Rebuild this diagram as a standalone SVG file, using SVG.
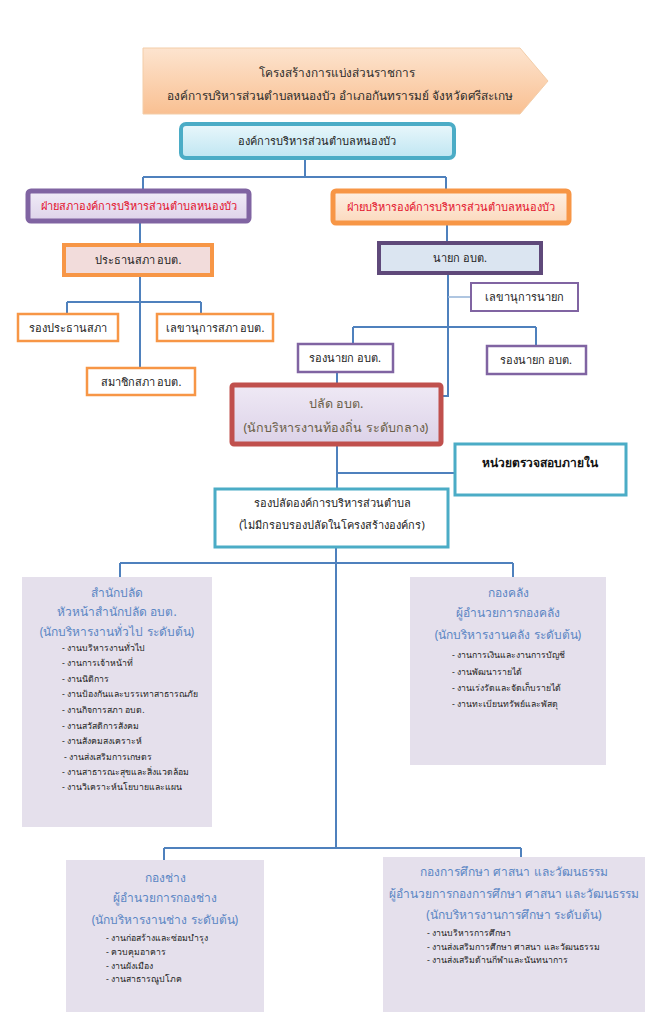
<svg xmlns="http://www.w3.org/2000/svg" width="662" height="1024" viewBox="0 0 662 1024">
<defs>
<linearGradient id="gTitle" x1="0" y1="0" x2="0" y2="1"><stop offset="0" stop-color="#fde4cf"/><stop offset="1" stop-color="#f9c092"/></linearGradient>
<linearGradient id="gTop" x1="0" y1="0" x2="0" y2="1"><stop offset="0" stop-color="#e9f7fb"/><stop offset="1" stop-color="#bfe6f2"/></linearGradient>
<linearGradient id="gPur" x1="0" y1="0" x2="0" y2="1"><stop offset="0" stop-color="#f1ecf7"/><stop offset="1" stop-color="#ddd3ea"/></linearGradient>
<linearGradient id="gOra" x1="0" y1="0" x2="0" y2="1"><stop offset="0" stop-color="#fef0e4"/><stop offset="1" stop-color="#fbd9bd"/></linearGradient>
<linearGradient id="gRed" x1="0" y1="0" x2="0" y2="1"><stop offset="0" stop-color="#efe9f5"/><stop offset="1" stop-color="#dcd2e8"/></linearGradient>
</defs>
<style>
text{font-family:"Noto Sans","DejaVu Sans",sans-serif;text-anchor:middle}
.t{font-size:11px;fill:#222}
.red{font-size:11px;fill:#e3102b}
.big{font-size:11.8px;fill:#2a2a2a}
.plt{font-size:12.5px;fill:#6a5f48}
.dh{font-size:12px;fill:#5b86c4}
.li{font-size:8.7px;fill:#222;text-anchor:start}
.bold{font-size:12px;font-weight:bold;fill:#111}
.c{fill:none;stroke:#4f81bd;stroke-width:2}
.cl{fill:none;stroke:#95b3d7;stroke-width:1.5}
.dept{fill:#e5e0ec}
</style>

<g id="connectors">
<path class="c" d="M305,159 V177 M143,177 H446 M143,177 V190 M446,177 V190"/>
<path class="c" d="M140,222 V244"/>
<path class="c" d="M140,276 V367 M67,302 H201 M67,302 V313 M201,302 V313"/>
<path class="c" d="M447,224 V242"/>
<path class="c" d="M448,274 V396 H442"/>
<path class="cl" d="M448,297 H470"/>
<path class="c" d="M353,327 H536 M353,327 V343 M536,327 V345"/>
<path class="c" d="M337,372 V383"/>
<path class="c" d="M337,445 V488 M337,473 H454"/>
<path class="c" d="M336,548 V848 M120,563 H513 M120,563 V577 M513,563 V577"/>
<path class="c" d="M164,848 H521 M164,848 V860 M521,848 V857"/>
</g>

<g id="title">
<path d="M143,48 L520,48 L548,81 L520,114 L143,114 Z" fill="url(#gTitle)" stroke="#f3cda8" stroke-width="1"/>
<text class="big" x="337" y="77">โครงสร้างการแบ่งส่วนราชการ</text>
<text class="big" x="340" y="100">องค์การบริหารส่วนตำบลหนองบัว อำเภอกันทรารมย์ จังหวัดศรีสะเกษ</text>
</g>

<g id="n-top">
<rect x="181" y="124" width="273" height="34" rx="5" fill="url(#gTop)" stroke="#4bacc6" stroke-width="4"/>
<text class="t" x="317" y="145">องค์การบริหารส่วนตำบลหนองบัว</text>
</g>

<g id="n-council">
<rect x="28" y="191" width="221" height="30" rx="3" fill="url(#gPur)" stroke="#8064a2" stroke-width="5"/>
<text class="red" x="139" y="210">ฝ่ายสภาองค์การบริหารส่วนตำบลหนองบัว</text>
</g>

<g id="n-exec">
<rect x="333" y="191" width="236" height="32" rx="3" fill="url(#gOra)" stroke="#f79646" stroke-width="5"/>
<text class="red" x="451" y="211">ฝ่ายบริหารองค์การบริหารส่วนตำบลหนองบัว</text>
</g>

<g id="n-chair">
<rect x="64" y="245" width="148" height="30" fill="#f2dcdb" stroke="#f79646" stroke-width="4"/>
<text class="t" x="138" y="264">ประธานสภา อบต.</text>
</g>

<g id="n-vicechair">
<rect x="18" y="314" width="100" height="27" fill="#fff" stroke="#f79646" stroke-width="2.5"/>
<text class="t" x="68" y="332">รองประธานสภา</text>
</g>

<g id="n-councilsec">
<rect x="157" y="314" width="116" height="27" fill="#fff" stroke="#f79646" stroke-width="2.5"/>
<text class="t" x="215" y="332">เลขานุการสภา อบต.</text>
</g>

<g id="n-member">
<rect x="87" y="368" width="108" height="27" fill="#fff" stroke="#f79646" stroke-width="2.5"/>
<text class="t" x="141" y="386">สมาชิกสภา อบต.</text>
</g>

<g id="n-mayor">
<rect x="379" y="243" width="162" height="30" fill="#dbe5f1" stroke="#5f497a" stroke-width="4"/>
<text class="t" x="460" y="262">นายก อบต.</text>
</g>

<g id="n-mayorsec">
<rect x="471" y="283" width="107" height="28" fill="#fff" stroke="#8064a2" stroke-width="2"/>
<text class="t" x="524" y="301">เลขานุการนายก</text>
</g>

<g id="n-vicemayor1">
<rect x="298" y="344" width="95" height="28" fill="#fff" stroke="#8064a2" stroke-width="2.5"/>
<text class="t" x="345" y="362">รองนายก อบต.</text>
</g>

<g id="n-vicemayor2">
<rect x="487" y="346" width="99" height="28" fill="#fff" stroke="#8064a2" stroke-width="2.5"/>
<text class="t" x="536" y="364">รองนายก อบต.</text>
</g>

<g id="n-palad">
<rect x="232" y="385" width="209" height="59" rx="2" fill="url(#gRed)" stroke="#c0504d" stroke-width="5"/>
<text class="plt" x="336" y="408">ปลัด อบต.</text>
<text class="plt" x="336" y="432">(นักบริหารงานท้องถิ่น ระดับกลาง)</text>
</g>

<g id="n-audit">
<rect x="455" y="444" width="171" height="51" fill="#fff" stroke="#4bacc6" stroke-width="3"/>
<text class="bold" x="540" y="467">หน่วยตรวจสอบภายใน</text>
</g>

<g id="n-deputy">
<rect x="215" y="489" width="233" height="58" fill="#fff" stroke="#4bacc6" stroke-width="3"/>
<text class="t" x="332" y="507">รองปลัดองค์การบริหารส่วนตำบล</text>
<text class="t" x="332" y="529">(ไม่มีกรอบรองปลัดในโครงสร้างองค์กร)</text>
</g>

<g id="n-office">
<rect class="dept" x="22" y="577" width="190" height="250"/>
<text class="dh" x="117" y="597">สำนักปลัด</text>
<text class="dh" x="117" y="616">หัวหน้าสำนักปลัด อบต.</text>
<text class="dh" x="117" y="636">(นักบริหารงานทั่วไป ระดับต้น)</text>
<text class="li" x="62" y="651">- งานบริหารงานทั่วไป</text>
<text class="li" x="62" y="666">- งานการเจ้าหน้าที่</text>
<text class="li" x="62" y="682">- งานนิติการ</text>
<text class="li" x="62" y="697">- งานป้องกันและบรรเทาสาธารณภัย</text>
<text class="li" x="62" y="713">- งานกิจการสภา อบต.</text>
<text class="li" x="62" y="729">- งานสวัสดิการสังคม</text>
<text class="li" x="62" y="744">- งานสังคมสงเคราะห์</text>
<text class="li" x="64" y="760">- งานส่งเสริมการเกษตร</text>
<text class="li" x="62" y="775">- งานสาธารณะสุขและสิ่งแวดล้อม</text>
<text class="li" x="62" y="790">- งานวิเคราะห์นโยบายและแผน</text>
</g>

<g id="n-finance">
<rect class="dept" x="410" y="577" width="196" height="188"/>
<text class="dh" x="508" y="597">กองคลัง</text>
<text class="dh" x="508" y="617">ผู้อำนวยการกองคลัง</text>
<text class="dh" x="508" y="639">(นักบริหารงานคลัง ระดับต้น)</text>
<text class="li" x="452" y="658">- งานการเงินและงานการบัญชี</text>
<text class="li" x="452" y="675">- งานพัฒนารายได้</text>
<text class="li" x="452" y="691">- งานเร่งรัดและจัดเก็บรายได้</text>
<text class="li" x="452" y="707">- งานทะเบียนทรัพย์และพัสดุ</text>
</g>

<g id="n-works">
<rect class="dept" x="66" y="860" width="198" height="152"/>
<text class="dh" x="165" y="882">กองช่าง</text>
<text class="dh" x="165" y="902">ผู้อำนวยการกองช่าง</text>
<text class="dh" x="165" y="924">(นักบริหารงานช่าง ระดับต้น)</text>
<text class="li" x="106" y="941">- งานก่อสร้างและซ่อมบำรุง</text>
<text class="li" x="106" y="955">- ควบคุมอาคาร</text>
<text class="li" x="106" y="969">- งานผังเมือง</text>
<text class="li" x="106" y="982">- งานสาธารณูปโภค</text>
</g>

<g id="n-education">
<rect class="dept" x="383" y="857" width="262" height="155"/>
<text class="dh" x="514" y="876">กองการศึกษา ศาสนา และวัฒนธรรม</text>
<text class="dh" x="514" y="898">ผู้อำนวยการกองการศึกษา ศาสนา และวัฒนธรรม</text>
<text class="dh" x="514" y="919">(นักบริหารงานการศึกษา ระดับต้น)</text>
<text class="li" x="427" y="936">- งานบริหารการศึกษา</text>
<text class="li" x="427" y="950">- งานส่งเสริมการศึกษา ศาสนา และวัฒนธรรม</text>
<text class="li" x="427" y="963">- งานส่งเสริมด้านกีฬาและนันทนาการ</text>
</g>
</svg>
